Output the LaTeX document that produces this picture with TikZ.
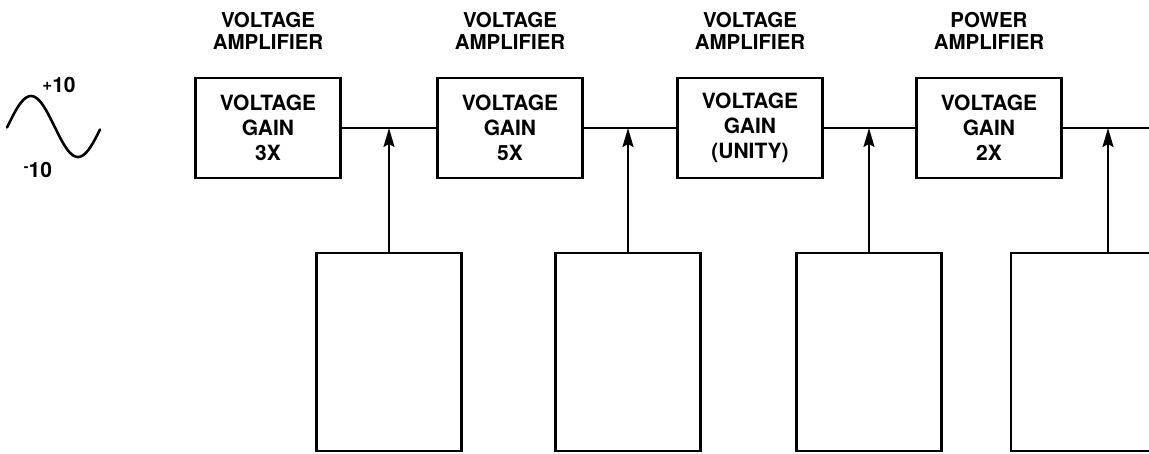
\documentclass[tikz,border=0pt]{standalone}
\usepackage{fontspec}
\setmainfont{TeX Gyre Heros}
\usetikzlibrary{positioning, arrows.meta}

\begin{document}
\begin{tikzpicture}[x=1pt, y=-1pt,
            gain/.style={draw, line width=2.4pt, align=center, font=\fontsize{21}{25}\selectfont\bfseries, minimum width=145pt, minimum height=100pt, inner sep=0pt},
            title/.style={align=center, font=\fontsize{20.5}{22}\selectfont\bfseries, inner sep=0pt},
            stage/.style={draw, line width=2.6pt, minimum width=145pt, minimum height=198pt},
            sig/.style={line width=1.9pt},
            arrow/.style={-{Stealth[length=19pt, width=11pt, inset=3pt]}, line width=2pt}
        ]
            \clip (0,0) rectangle (1149,453);

            % Input signal
            \draw[line width=2.6pt, line cap=round, domain=7:100, samples=60] plot (\x, {126.5 - 30.5*cos(3.83*(\x-31))});
            \node[font=\fontsize{21}{22}\selectfont\bfseries, inner sep=0pt] at (59, 85) (plusten) {\raisebox{2pt}{\fontsize{17}{17}\selectfont +}10};
            \node[font=\fontsize{21}{22}\selectfont\bfseries, inner sep=0pt] at (38, 170) (minusten) {\raisebox{6pt}{\fontsize{14}{14}\selectfont -}10};

            % Top part: amplifier stages
            \node[gain] at (268, 128) (gainA) {VOLTAGE \\ GAIN \\ 3X};
            \node[gain] at (510, 128) (gainB) {VOLTAGE \\ GAIN \\ 5X};
            \node[gain] at (750, 128) (gainC) {VOLTAGE \\ GAIN \\ (UNITY)};
            \node[gain] at (989, 128) (gainD) {VOLTAGE \\ GAIN \\ 2X};

            \node[title, above=27pt of gainA] (titleA) {VOLTAGE \\ AMPLIFIER};
            \node[title, above=27pt of gainB] (titleB) {VOLTAGE \\ AMPLIFIER};
            \node[title, above=27pt of gainC] (titleC) {VOLTAGE \\ AMPLIFIER};
            \node[title, above=27pt of gainD] (titleD) {POWER \\ AMPLIFIER};

            \coordinate (out) at (1160, 128);
            \draw[sig] (gainA.east) -- (gainB.west);
            \draw[sig] (gainB.east) -- (gainC.west);
            \draw[sig] (gainC.east) -- (gainD.west);
            \draw[sig] (gainD.east) -- (out);

            % Bottom part
            \node[stage] at (389, 352) (lowA) {};
            \node[stage] at (628, 352) (lowB) {};
            \node[stage] at (869, 352) (lowC) {};
            \node[stage, minimum width=194pt] at (1108, 352) (lowD) {};

            \draw[arrow] (lowA.north) -- (lowA.north |- gainA.east);
            \draw[arrow] (lowB.north) -- (lowB.north |- gainB.east);
            \draw[arrow] (lowC.north) -- (lowC.north |- gainC.east);
            \draw[arrow] (lowD.north) -- (lowD.north |- gainD.east);

        \end{tikzpicture}
\end{document}
